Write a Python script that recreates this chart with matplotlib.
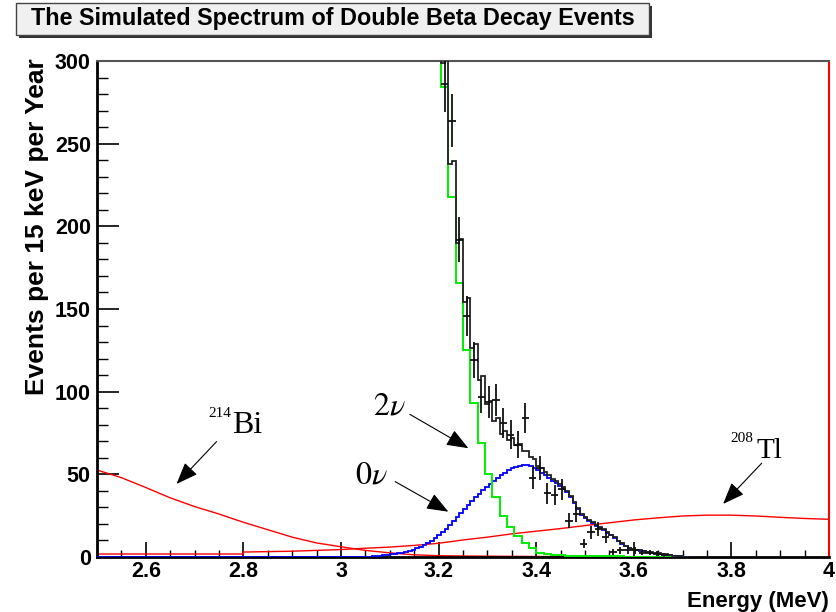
import numpy as np
import matplotlib
matplotlib.use('Agg')
import matplotlib.pyplot as plt
from matplotlib.ticker import MultipleLocator
from matplotlib.patches import Rectangle

# Histogram bin widths (MeV)
wide_bin = 0.015    # 15 keV
narrow_bin = 0.0075  # 7.5 keV

# 2-neutrino spectrum (green), 15 keV bins from 3.19 MeV (first bin is off scale)
green_start = 3.19
green_vals = [400, 284, 218, 166, 125, 93, 69, 50, 36, 25, 18, 13, 8.3, 5.2, 2.6,
              1.8, 1.4, 1.1, 0.9, 0.8, 0.7, 0.6, 0.5, 0.5, 0.4, 0.4, 0.3, 0.3, 0.3,
              0.2, 0.2, 0.2, 0.0]

# 0-neutrino peak (blue), 7.5 keV bins from 3.055 MeV, zero below that
blue_start = 3.055
blue_vals = [0.3, 0.4, 0.6, 0.9, 1.2, 1.5, 1.8, 2.0, 2.3, 2.7, 3.2, 3.8, 4.5, 5.3, 6.2,
             7.3, 8.5, 9.9, 11.4, 13.1, 15.0, 17.1, 19.4, 21.8, 24.2, 26.6, 29.0, 31.4,
             33.7, 36.0, 38.2, 40.3, 42.3, 44.2, 46.0, 47.8, 49.5, 51.1, 52.6, 53.8,
             54.6, 55.3, 55.6, 55.6, 55.2, 54.0, 52.6, 51.0, 49.4, 47.8, 46.0, 44.6,
             43.0, 41.4, 39.2, 36.2, 32.6, 28.8, 25.6, 23.6, 22.0, 20.4, 19.0, 17.8,
             16.2, 14.6, 13.2, 11.4, 9.4, 8.0, 6.6, 5.4, 4.8, 4.2, 3.8, 3.5, 3.1, 2.6,
             2.3, 2.0, 1.7, 1.5, 1.3, 0.9, 0.6, 0.4, 0.3, 0.2, 0.1, 0.0]

# 214Bi background (red)
bi_energy = [2.50, 2.55, 2.60, 2.65, 2.70, 2.75, 2.80, 2.85, 2.90, 2.95, 3.00, 3.05,
             3.10, 3.15, 3.20, 3.25, 3.30, 3.35, 3.40, 3.45, 3.475]
bi_vals = [52.6, 48.0, 42.0, 35.8, 30.5, 26.0, 21.0, 16.5, 12.0, 8.5, 6.2, 4.0,
           2.5, 1.3, 0.8, 0.6, 0.5, 0.4, 0.3, 0.3, 0.2]

# 208Tl background (red)
tl_energy = [2.50, 2.60, 2.70, 2.80, 2.80, 2.90, 3.00, 3.05, 3.10, 3.15, 3.20, 3.25,
             3.30, 3.35, 3.40, 3.45, 3.50, 3.55, 3.60, 3.65, 3.70, 3.75, 3.80, 3.85,
             3.90, 3.95, 4.00]
tl_vals = [1.8, 1.8, 1.8, 1.8, 3.0, 3.5, 4.5, 5.3, 6.0, 7.0, 8.3, 10.3,
           12.0, 14.0, 15.6, 17.2, 19.0, 20.7, 22.4, 23.7, 24.8, 25.3, 25.3, 24.8,
           24.0, 23.3, 22.8]

# Simulated data points at the 15 keV bin centres
data_energy = [3.2125, 3.2275, 3.2425, 3.2575, 3.2725, 3.2875, 3.3025, 3.3175, 3.3325,
               3.3475, 3.3625, 3.3775, 3.3925, 3.4075, 3.4225, 3.4375, 3.4525, 3.4675,
               3.4825, 3.4975, 3.5125, 3.5275, 3.5425, 3.5575, 3.5725, 3.5875, 3.6025,
               3.6175, 3.6325, 3.6475, 3.6625]
data_counts = [286, 264, 192, 146, 119, 97, 94, 95, 81, 74, 68, 84, 48, 54, 38.5, 37.5,
               41, 22, 26, 8, 15, 17, 12, 3, 4, 4, 4, 2.5, 2.5, 2, 1]

# Axis ticks
x_ticks = [2.6, 2.8, 3.0, 3.2, 3.4, 3.6, 3.8, 4.0]
x_tick_labels = ['2.6', '2.8', '3', '3.2', '3.4', '3.6', '3.8', '4']
y_ticks = [0, 50, 100, 150, 200, 250, 300]
y_tick_labels = ['0', '50', '100', '150', '200', '250', '300']

plt.rcParams['font.family'] = 'Liberation Sans'
plt.rcParams['mathtext.fontset'] = 'stix'

fig = plt.figure(figsize=(8.36, 6.12), dpi=100)
ax = fig.add_axes([97 / 836, 55 / 612, 732 / 836, 496 / 612])

# Bin edges for the histograms
green_edges = green_start + wide_bin * np.arange(len(green_vals) + 1)
blue_edges = np.concatenate([[2.5], blue_start + narrow_bin * np.arange(len(blue_vals) + 1)])
blue_full = [0.0] + blue_vals

# Total of the two signal histograms, on the 7.5 keV grid from 3.19 MeV
first = int(round((green_start - blue_start) / narrow_bin))
total_vals = []
for i in range(first, len(blue_vals)):
    g = (i - first) // 2
    total_vals.append(blue_vals[i] + (green_vals[g] if g < len(green_vals) else 0.0))
total_edges = blue_start + narrow_bin * np.arange(first, len(blue_vals) + 1)

# Backgrounds
ax.plot(bi_energy, bi_vals, color='red', lw=1.0, zorder=2)
ax.plot(tl_energy, tl_vals, color='red', lw=1.0, zorder=2)

# Signal histograms
ax.stairs(blue_full, blue_edges, baseline=None, color='blue', lw=1.3, zorder=3)
ax.stairs(green_vals, green_edges, baseline=None, color='#00ee00', lw=1.4, zorder=4)
ax.stairs(total_vals, total_edges, baseline=None, color='#222222', lw=1.3, zorder=5)

# Data with Poisson errors
ax.errorbar(data_energy, data_counts, xerr=narrow_bin, yerr=np.sqrt(data_counts),
            fmt='none', ecolor='#111111', elinewidth=1.3, capsize=0, zorder=6)

ax.set_xlim(2.5, 4.0)
ax.set_ylim(0, 300)

ax.set_xticks(x_ticks)
ax.set_xticklabels(x_tick_labels, fontsize=15.5, fontweight='bold')
ax.set_yticks(y_ticks)
ax.set_yticklabels(y_tick_labels, fontsize=15.5, fontweight='bold')
ax.xaxis.set_minor_locator(MultipleLocator(0.05))
ax.yaxis.set_minor_locator(MultipleLocator(10))
ax.tick_params(axis='x', which='major', direction='in', length=11, width=1.2, pad=3, top=False)
ax.tick_params(axis='x', which='minor', direction='in', length=5, width=1.0, top=False)
ax.tick_params(axis='y', which='major', direction='in', length=16, width=1.2, pad=4.5, right=False)
ax.tick_params(axis='y', which='minor', direction='in', length=8, width=1.0, right=False)

ax.spines['left'].set_linewidth(2)
ax.spines['bottom'].set_linewidth(2)
ax.spines['top'].set_color('#555555')
ax.spines['top'].set_linewidth(1.5)
ax.spines['right'].set_color('red')
ax.spines['right'].set_linewidth(1.5)

ax.set_ylabel('Events per 15 keV per Year', loc='top', fontsize=19, fontweight='bold')
ax.yaxis.set_label_coords(-0.066, 1.006)
ax.set_xlabel('Energy (MeV)', loc='right', fontsize=16, fontweight='bold')
ax.xaxis.set_label_coords(1.0, -0.068)

# Labels for each component with arrows
serif = 'Liberation Serif'
ax.text(2.728, 90.7, '214', family=serif, fontsize=11, va='top', ha='left')
ax.text(2.776, 74.8, 'Bi', family=serif, fontsize=23, va='baseline', ha='left')
ax.text(3.066, 86.3, r'$2\nu$', fontsize=23, va='baseline', ha='left')
ax.text(3.029, 44.6, r'$0\nu$', fontsize=23, va='baseline', ha='left')
ax.text(3.797, 75.8, '208', family=serif, fontsize=11, va='top', ha='left')
ax.text(3.852, 59.7, 'Tl', family=serif, fontsize=21, va='baseline', ha='left')

arrow = dict(arrowstyle='-|>,head_length=0.9,head_width=0.35', color='black',
             lw=0.8, mutation_scale=15, shrinkA=0, shrinkB=0)
ax.annotate('', xy=(2.663, 44.2), xytext=(2.745, 69.8), arrowprops=arrow)
ax.annotate('', xy=(3.261, 65.8), xytext=(3.141, 86.3), arrowprops=arrow)
ax.annotate('', xy=(3.220, 27.4), xytext=(3.111, 45.6), arrowprops=arrow)
ax.annotate('', xy=(3.783, 32.1), xytext=(3.862, 56.7), arrowprops=arrow)

# Title box with a drop shadow
fig.patches.append(Rectangle((19 / 836, 1 - 38 / 612), 633 / 836, 32 / 612,
                             transform=fig.transFigure, facecolor='#333333', edgecolor='none'))
fig.patches.append(Rectangle((16 / 836, 1 - 35 / 612), 633 / 836, 32 / 612,
                             transform=fig.transFigure, facecolor='#f0f0f0',
                             edgecolor='#444444', lw=1.0))
fig.text(332.5 / 836, 1 - 19 / 612, 'The Simulated Spectrum of Double Beta Decay Events',
         ha='center', va='center', fontsize=16.8, fontweight='bold')

fig.savefig('out.png', dpi=100)
